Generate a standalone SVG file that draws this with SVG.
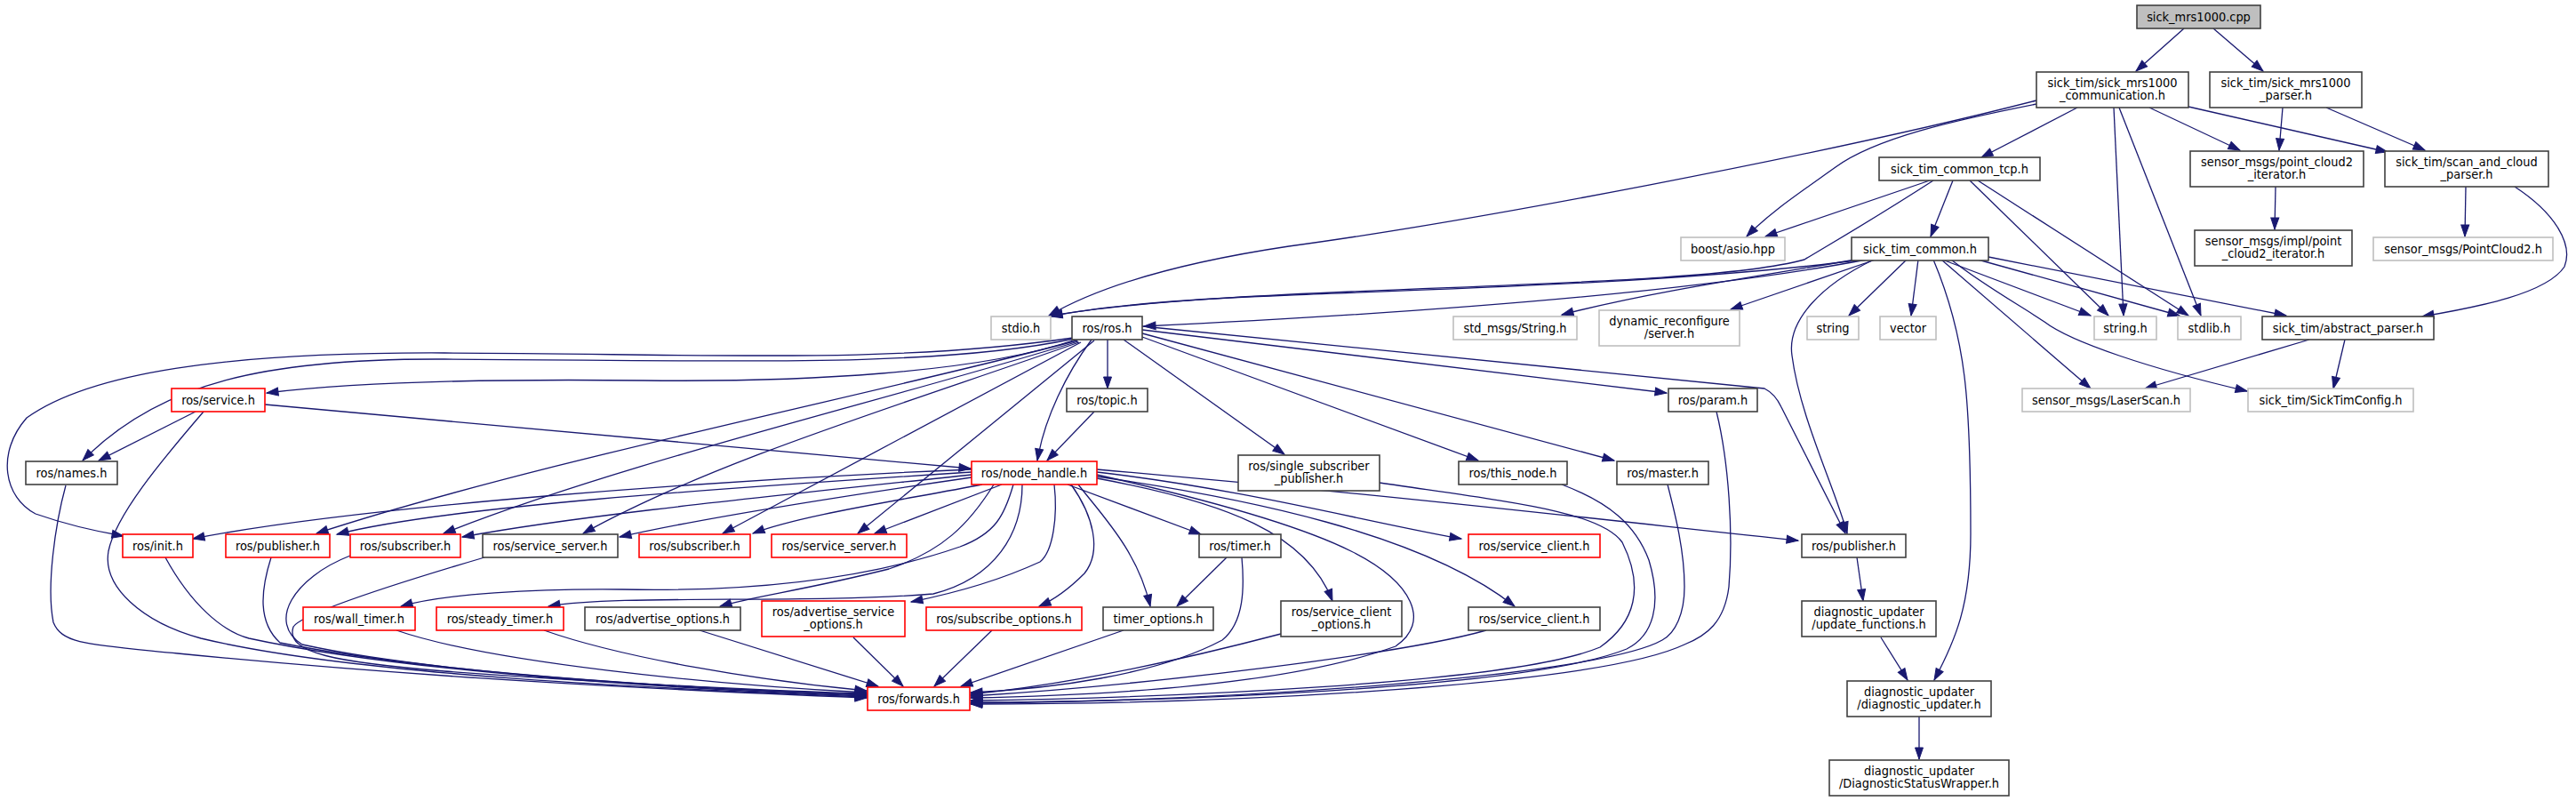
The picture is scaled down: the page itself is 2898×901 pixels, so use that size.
<svg xmlns="http://www.w3.org/2000/svg" width="2898" height="901" viewBox="0 0 2898 901">
<defs>
<marker id="a" markerWidth="14" markerHeight="10" refX="13" refY="4.5" orient="auto" markerUnits="userSpaceOnUse" overflow="visible"><path d="M0,0 L13,4.5 L0,9 z" fill="#191970" stroke="#191970" stroke-width="1"/></marker>
<style>
rect{fill:#fff;stroke:#404040;stroke-width:1.6}
.r rect{stroke:#ff0000}
.g rect{stroke:#bfbfbf}
.root rect{fill:#bfbfbf}
text{font-family:"DejaVu Sans Condensed","DejaVu Sans",sans-serif;font-stretch:condensed;font-size:14.4px;text-anchor:middle;fill:#000}
#edges path{fill:none;stroke:#191970;stroke-width:1.3;marker-end:url(#a)}
</style>
</defs>
<rect x="0" y="0" width="2898" height="901" style="fill:#fff;stroke:none"/>
<g id="edges">
<path d="M2457,32 L2403,80"/>
<path d="M2490,32 L2546,80"/>
<path d="M2291,113 C2050,175 1650,250 1450,277 C1330,295 1240,320 1180,355"/>
<path d="M2291,117 C2200,135 2110,155 2065,188 C2020,220 1990,240 1965,266"/>
<path d="M2337,121 L2229,177"/>
<path d="M2378,121 L2389,355"/>
<path d="M2384,121 L2476,355"/>
<path d="M2418,121 L2520,169"/>
<path d="M2462,120 L2686,171"/>
<path d="M2568,121 L2564,169"/>
<path d="M2617,121 L2728,169"/>
<path d="M2560,210 L2559,258"/>
<path d="M2774,210 L2773,266"/>
<path d="M2829,210 C2875,240 2895,275 2885,300 C2865,330 2790,345 2725,356"/>
<path d="M2171,203 L1986,266"/>
<path d="M2175,203 C2110,245 2075,265 2030,292 C1900,328 1400,318 1182,355"/>
<path d="M2197,203 L2172,266"/>
<path d="M2216,203 L2372,355"/>
<path d="M2225,203 L2462,355"/>
<path d="M2095,292 C1900,318 1600,326 1450,332 C1350,336 1250,342 1182,356"/>
<path d="M2100,292 C1900,330 1600,352 1287,367"/>
<path d="M2088,292 C1950,315 1850,330 1757,354"/>
<path d="M2110,292 L1947,348"/>
<path d="M2145,292 L2080,355"/>
<path d="M2158,292 L2150,355"/>
<path d="M2185,292 L2352,355"/>
<path d="M2225,292 L2452,355"/>
<path d="M2237,289 L2572,355"/>
<path d="M2184,292 L2352,437"/>
<path d="M2195,292 C2230,320 2275,345 2300,362 C2330,385 2420,415 2528,440"/>
<path d="M2108,292 C2050,320 2010,360 2016,400 C2025,470 2065,550 2078,600"/>
<path d="M2175,292 C2212,380 2217,450 2217,600 C2217,680 2200,720 2176,765"/>
<path d="M2598,382 L2413,437"/>
<path d="M2638,382 L2625,437"/>
<path d="M1246,382 L1246,437"/>
<path d="M1228,382 C1200,420 1175,470 1167,518"/>
<path d="M1231,463 L1178,518"/>
<path d="M1264,382 L1445,511"/>
<path d="M1285,379 L1663,518"/>
<path d="M1285,375 L1816,518"/>
<path d="M1285,371 L1875,442"/>
<path d="M1285,367 L1985,437 Q1997,443 2004,458 L2076,600"/>
<path d="M1210,382 C1100,420 900,430 725,428 C550,426 400,430 300,442"/>
<path d="M1208,381 C1050,415 800,405 500,404 C300,403 180,430 93,518"/>
<path d="M1207,380 C1000,410 800,398 500,397 C250,396 100,420 30,470 C-5,510 5,560 40,578 C80,592 110,598 139,603"/>
<path d="M1212,383 C1000,440 600,520 356,600"/>
<path d="M1213,384 C1000,450 700,520 499,600"/>
<path d="M1214,385 C1000,460 800,520 656,600"/>
<path d="M1216,385 L813,600"/>
<path d="M1231,383 L965,600"/>
<path d="M220,463 L111,518"/>
<path d="M298,455 L1092,527"/>
<path d="M229,463 C180,520 130,580 122,620 C115,660 160,700 226,718 C400,760 750,775 975,784"/>
<path d="M74,546 C62,590 52,660 60,700 C70,725 100,725 200,735 C500,765 800,778 975,785"/>
<path d="M1093,528 C800,540 400,570 217,606"/>
<path d="M1093,531 C800,550 500,570 379,601"/>
<path d="M1093,534 C850,560 650,580 520,604"/>
<path d="M1093,537 C900,565 780,585 697,604"/>
<path d="M1105,545 C1000,565 900,580 847,600"/>
<path d="M1127,545 L984,600"/>
<path d="M1140,545 C1130,580 1120,600 1080,615 C950,660 800,665 700,663 C600,662 500,668 451,682"/>
<path d="M1150,545 C1150,600 1120,650 1050,668 C900,680 700,668 617,682"/>
<path d="M1118,545 C1090,590 1060,620 1000,640 C900,665 850,670 810,682"/>
<path d="M1186,545 C1190,580 1185,620 1170,632 C1120,655 1070,668 1025,677"/>
<path d="M1205,545 C1230,580 1240,620 1220,645 C1200,665 1185,675 1169,682"/>
<path d="M1213,545 C1240,580 1280,620 1294,682"/>
<path d="M1201,545 L1351,601"/>
<path d="M1234,531 C1400,550 1550,590 1644,606"/>
<path d="M1234,528 C1600,560 1850,590 2023,608"/>
<path d="M1234,538 C1380,565 1470,600 1499,676"/>
<path d="M1234,536 C1400,560 1600,600 1704,682"/>
<path d="M1234,534 C1350,560 1460,590 1520,620 C1590,655 1610,700 1570,727 C1450,770 1250,782 1092,785"/>
<path d="M186,627 C215,680 250,710 280,718 C450,755 750,775 975,783"/>
<path d="M305,627 C293,665 290,700 315,723 C500,760 800,775 975,782"/>
<path d="M394,625 C330,650 300,700 340,725 C500,760 800,776 975,781"/>
<path d="M545,627 C450,655 340,690 330,705 C320,735 380,745 500,755 C700,770 900,778 975,780"/>
<path d="M446,709 C550,745 800,770 975,779"/>
<path d="M612,709 C700,740 850,765 975,777"/>
<path d="M787,709 L988,772"/>
<path d="M960,717 L1016,772"/>
<path d="M1116,709 L1051,772"/>
<path d="M1264,709 L1081,772"/>
<path d="M1397,627 C1400,660 1400,700 1375,720 C1300,760 1180,775 1092,779"/>
<path d="M1441,713 C1300,750 1180,772 1092,781"/>
<path d="M1672,709 C1580,735 1300,770 1092,783"/>
<path d="M1552,543 C1700,565 1800,575 1825,610 C1850,660 1840,700 1800,728 C1700,770 1300,785 1092,788"/>
<path d="M1757,545 C1810,565 1840,590 1855,630 C1870,680 1860,715 1830,730 C1720,775 1300,790 1092,790"/>
<path d="M1876,545 C1885,580 1895,620 1895,660 C1895,690 1885,712 1870,720 C1800,760 1400,788 1092,791"/>
<path d="M1931,463 C1945,520 1950,600 1945,660 C1940,700 1920,715 1895,725 C1800,770 1400,792 1092,792"/>
<path d="M1380,627 L1324,682"/>
<path d="M2089,627 L2096,676"/>
<path d="M2116,717 L2146,765"/>
<path d="M2159,806 L2159,854"/>
</g>
<g id="n1" class="root"><rect x="2404" y="6" width="139" height="26"/><text x="2473.5" y="24">sick_mrs1000.cpp</text></g>
<g id="n2"><rect x="2291" y="81" width="171" height="40"/><text x="2376.5" y="97.5">sick_tim/sick_mrs1000</text><text x="2376.5" y="112">_communication.h</text></g>
<g id="n3"><rect x="2486" y="81" width="171" height="40"/><text x="2571.5" y="97.5">sick_tim/sick_mrs1000</text><text x="2571.5" y="112">_parser.h</text></g>
<g id="n4"><rect x="2114" y="177" width="181" height="26"/><text x="2204.5" y="195">sick_tim_common_tcp.h</text></g>
<g id="n5"><rect x="2464" y="170" width="195" height="40"/><text x="2561.5" y="186.5">sensor_msgs/point_cloud2</text><text x="2561.5" y="201">_iterator.h</text></g>
<g id="n6"><rect x="2683" y="170" width="184" height="40"/><text x="2775" y="186.5">sick_tim/scan_and_cloud</text><text x="2775" y="201">_parser.h</text></g>
<g id="n7" class="g"><rect x="1891" y="267" width="117" height="26"/><text x="1949.5" y="285">boost/asio.hpp</text></g>
<g id="n8"><rect x="2083" y="267" width="154" height="26"/><text x="2160" y="285">sick_tim_common.h</text></g>
<g id="n9"><rect x="2469" y="259" width="177" height="40"/><text x="2557.5" y="275.5">sensor_msgs/impl/point</text><text x="2557.5" y="290">_cloud2_iterator.h</text></g>
<g id="n10" class="g"><rect x="2670" y="267" width="202" height="26"/><text x="2771" y="285">sensor_msgs/PointCloud2.h</text></g>
<g id="n11" class="g"><rect x="1115" y="356" width="67" height="26"/><text x="1148.5" y="374">stdio.h</text></g>
<g id="n12"><rect x="1206" y="356" width="79" height="26"/><text x="1245.5" y="374">ros/ros.h</text></g>
<g id="n13" class="g"><rect x="1635" y="356" width="139" height="26"/><text x="1704.5" y="374">std_msgs/String.h</text></g>
<g id="n14" class="g"><rect x="1799" y="349" width="158" height="40"/><text x="1878" y="365.5">dynamic_reconfigure</text><text x="1878" y="380">/server.h</text></g>
<g id="n15" class="g"><rect x="2033" y="356" width="58" height="26"/><text x="2062" y="374">string</text></g>
<g id="n16" class="g"><rect x="2115" y="356" width="63" height="26"/><text x="2146.5" y="374">vector</text></g>
<g id="n17" class="g"><rect x="2356" y="356" width="70" height="26"/><text x="2391" y="374">string.h</text></g>
<g id="n18" class="g"><rect x="2450" y="356" width="71" height="26"/><text x="2485.5" y="374">stdlib.h</text></g>
<g id="n19"><rect x="2545" y="356" width="193" height="26"/><text x="2641.5" y="374">sick_tim/abstract_parser.h</text></g>
<g id="n20" class="r"><rect x="193" y="437" width="105" height="26"/><text x="245.5" y="455">ros/service.h</text></g>
<g id="n21"><rect x="1200" y="437" width="91" height="26"/><text x="1245.5" y="455">ros/topic.h</text></g>
<g id="n22"><rect x="1877" y="437" width="100" height="26"/><text x="1927" y="455">ros/param.h</text></g>
<g id="n23" class="g"><rect x="2275" y="437" width="189" height="26"/><text x="2369.5" y="455">sensor_msgs/LaserScan.h</text></g>
<g id="n24" class="g"><rect x="2529" y="437" width="186" height="26"/><text x="2622" y="455">sick_tim/SickTimConfig.h</text></g>
<g id="n25"><rect x="29" y="519" width="103" height="26"/><text x="80.5" y="537">ros/names.h</text></g>
<g id="n26" class="r"><rect x="1093" y="519" width="141" height="26"/><text x="1163.5" y="537">ros/node_handle.h</text></g>
<g id="n27"><rect x="1393" y="512" width="159" height="40"/><text x="1472.5" y="528.5">ros/single_subscriber</text><text x="1472.5" y="543">_publisher.h</text></g>
<g id="n28"><rect x="1641" y="519" width="122" height="26"/><text x="1702" y="537">ros/this_node.h</text></g>
<g id="n29"><rect x="1819" y="519" width="103" height="26"/><text x="1870.5" y="537">ros/master.h</text></g>
<g id="n30" class="r"><rect x="138" y="601" width="79" height="26"/><text x="177.5" y="619">ros/init.h</text></g>
<g id="n31" class="r"><rect x="254" y="601" width="117" height="26"/><text x="312.5" y="619">ros/publisher.h</text></g>
<g id="n32" class="r"><rect x="394" y="601" width="124" height="26"/><text x="456" y="619">ros/subscriber.h</text></g>
<g id="n33"><rect x="543" y="601" width="152" height="26"/><text x="619" y="619">ros/service_server.h</text></g>
<g id="n34" class="r"><rect x="719" y="601" width="125" height="26"/><text x="781.5" y="619">ros/subscriber.h</text></g>
<g id="n35" class="r"><rect x="868" y="601" width="152" height="26"/><text x="944" y="619">ros/service_server.h</text></g>
<g id="n36"><rect x="1349" y="601" width="92" height="26"/><text x="1395" y="619">ros/timer.h</text></g>
<g id="n37" class="r"><rect x="1652" y="601" width="148" height="26"/><text x="1726" y="619">ros/service_client.h</text></g>
<g id="n38"><rect x="2027" y="601" width="117" height="26"/><text x="2085.5" y="619">ros/publisher.h</text></g>
<g id="n39" class="r"><rect x="341" y="683" width="126" height="26"/><text x="404" y="701">ros/wall_timer.h</text></g>
<g id="n40" class="r"><rect x="491" y="683" width="143" height="26"/><text x="562.5" y="701">ros/steady_timer.h</text></g>
<g id="n41"><rect x="658" y="683" width="175" height="26"/><text x="745.5" y="701">ros/advertise_options.h</text></g>
<g id="n42" class="r"><rect x="857" y="676" width="161" height="40"/><text x="937.5" y="692.5">ros/advertise_service</text><text x="937.5" y="707">_options.h</text></g>
<g id="n43" class="r"><rect x="1042" y="683" width="175" height="26"/><text x="1129.5" y="701">ros/subscribe_options.h</text></g>
<g id="n44"><rect x="1241" y="683" width="124" height="26"/><text x="1303" y="701">timer_options.h</text></g>
<g id="n45"><rect x="1441" y="676" width="136" height="40"/><text x="1509" y="692.5">ros/service_client</text><text x="1509" y="707">_options.h</text></g>
<g id="n46"><rect x="1652" y="683" width="148" height="26"/><text x="1726" y="701">ros/service_client.h</text></g>
<g id="n47"><rect x="2027" y="676" width="151" height="40"/><text x="2102.5" y="692.5">diagnostic_updater</text><text x="2102.5" y="707">/update_functions.h</text></g>
<g id="n48" class="r"><rect x="976" y="773" width="115" height="26"/><text x="1033.5" y="791">ros/forwards.h</text></g>
<g id="n49"><rect x="2078" y="766" width="162" height="40"/><text x="2159" y="782.5">diagnostic_updater</text><text x="2159" y="797">/diagnostic_updater.h</text></g>
<g id="n50"><rect x="2058" y="855" width="202" height="40"/><text x="2159" y="871.5">diagnostic_updater</text><text x="2159" y="886">/DiagnosticStatusWrapper.h</text></g>
</svg>
